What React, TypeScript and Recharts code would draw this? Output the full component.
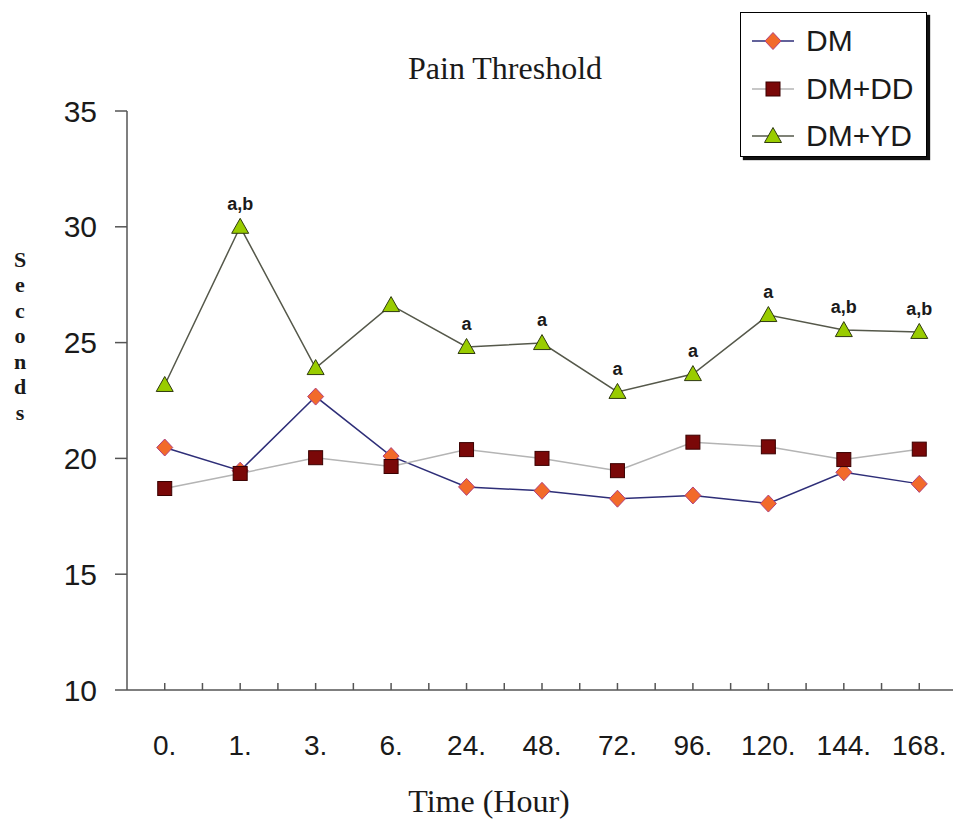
import React from 'react';
import { LineChart, Line, XAxis, YAxis, Legend, LabelList, Label } from 'recharts';

const categories = ['0.', '1.', '3.', '6.', '24.', '48.', '72.', '96.', '120.', '144.', '168.'];
const dmValues = [20.47, 19.47, 22.67, 20.1, 18.77, 18.6, 18.26, 18.4, 18.05, 19.4, 18.9];
const ddValues = [18.7, 19.35, 20.03, 19.65, 20.38, 20.0, 19.47, 20.7, 20.5, 19.95, 20.4];
const ydValues = [23.17, 30.0, 23.9, 26.62, 24.81, 24.98, 22.87, 23.64, 26.19, 25.54, 25.46];
const ydMarks = ['', 'a,b', '', '', 'a', 'a', 'a', 'a', 'a', 'a,b', 'a,b'];
const yTicks = [10, 15, 20, 25, 30, 35];
const seriesNames = { dm: 'DM', dd: 'DM+DD', yd: 'DM+YD' };

const data = categories.map((c, i) => ({
  time: c,
  dm: dmValues[i],
  dd: ddValues[i],
  yd: ydValues[i],
  mark: ydMarks[i],
}));

const CHART_W = 960;
const CHART_H = 819;
const MARGIN = { top: 111, right: 3, bottom: 29, left: 0 };
const YAXIS_W = 127;
const XAXIS_H = 100;
const PLOT_W = CHART_W - MARGIN.left - MARGIN.right - YAXIS_W;
const HALF_BAND = PLOT_W / categories.length / 2;

const SANS = '"Liberation Sans", Arial, sans-serif';
const SERIF = '"Liberation Serif", "Times New Roman", serif';
const AXIS = '#555';
const TEXT = '#1a1a1a';

const DM_LINE = '#2e2e78';
const DM_FILL = '#f26a2a';
const DM_STROKE = '#b0407e';
const DD_LINE = '#b4b4b4';
const DD_FILL = '#7a0808';
const DD_STROKE = '#3a0000';
const YD_LINE = '#55584a';
const YD_FILL = '#99cc00';
const YD_STROKE = '#2f3a10';

const Diamond = ({ cx, cy }: any) =>
  cx == null ? null : (
    <polygon
      points={`${cx},${cy - 8.5} ${cx + 8},${cy} ${cx},${cy + 8.5} ${cx - 8},${cy}`}
      fill={DM_FILL}
      stroke={DM_STROKE}
      strokeWidth={1}
    />
  );

const Square = ({ cx, cy }: any) =>
  cx == null ? null : (
    <rect x={cx - 7} y={cy - 7} width={14} height={14} fill={DD_FILL} stroke={DD_STROKE} strokeWidth={1} />
  );

const Triangle = ({ cx, cy }: any) =>
  cx == null ? null : (
    <polygon
      points={`${cx},${cy - 8.5} ${cx + 8.5},${cy + 6.5} ${cx - 8.5},${cy + 6.5}`}
      fill={YD_FILL}
      stroke={YD_STROKE}
      strokeWidth={1}
    />
  );

const XTick = (props: any) => {
  const { x, y, payload } = props;
  return (
    <g>
      <line x1={x} y1={y} x2={x} y2={y - 7} stroke={AXIS} strokeWidth={1.5} />
      <line x1={x + HALF_BAND} y1={y} x2={x + HALF_BAND} y2={y - 7} stroke={AXIS} strokeWidth={1.5} />
      <text x={x} y={y + 65} textAnchor="middle" fontSize={28} fontFamily={SANS} fill={TEXT}>
        {payload.value}
      </text>
    </g>
  );
};

const AnnotationLabel = (props: any) => {
  const { x, y, value } = props;
  if (!value) return null;
  return (
    <text x={x} y={y - 17} textAnchor="middle" fontSize={18} fontWeight="bold" fontFamily={SANS} fill={TEXT}>
      {value}
    </text>
  );
};

const SecondsLabel = () => {
  const letters = 'Seconds'.split('');
  return (
    <text x={20} y={259} textAnchor="middle" fontSize={22} fontWeight="bold" fontFamily={SERIF} fill={TEXT}>
      {letters.map((ch, i) => (
        <tspan key={i} x={20} dy={i === 0 ? '0.35em' : 25.5}>
          {ch}
        </tspan>
      ))}
    </text>
  );
};

const TimeLabel = () => (
  <text x={489} y={812} textAnchor="middle" fontSize={32} fontFamily={SERIF} fill={TEXT}>
    Time (Hour)
  </text>
);

const legendIcon = (key: string) => {
  const cx = 21;
  const cy = 11;
  if (key === 'dm')
    return (
      <>
        <line x1={0} y1={cy} x2={42} y2={cy} stroke={DM_LINE} strokeWidth={1.5} />
        <Diamond cx={cx} cy={cy} />
      </>
    );
  if (key === 'dd')
    return (
      <>
        <line x1={0} y1={cy} x2={42} y2={cy} stroke={DD_LINE} strokeWidth={1.5} />
        <Square cx={cx} cy={cy} />
      </>
    );
  return (
    <>
      <line x1={0} y1={cy} x2={42} y2={cy} stroke={YD_LINE} strokeWidth={1.5} />
      <Triangle cx={cx} cy={cy} />
    </>
  );
};

const LegendContent = (props: any) => {
  const payload = props.payload || [];
  return (
    <div
      style={{
        width: 187,
        height: 145,
        boxSizing: 'border-box',
        border: '1.5px solid #000',
        background: '#fff',
        boxShadow: '3px 3px 1px #111',
        position: 'relative',
      }}
    >
      {payload.map((p: any, i: number) => (
        <div
          key={p.dataKey}
          style={{
            position: 'absolute',
            left: 11,
            top: 28 + i * 47.5 - 17,
            height: 34,
            display: 'flex',
            alignItems: 'center',
          }}
        >
          <svg width={44} height={22} style={{ display: 'block' }}>
            {legendIcon(p.dataKey)}
          </svg>
          <span
            style={{
              marginLeft: 10,
              fontFamily: SANS,
              fontSize: 30,
              lineHeight: '34px',
              color: TEXT,
              whiteSpace: 'nowrap',
            }}
          >
            {p.value}
          </span>
        </div>
      ))}
    </div>
  );
};

export default function App() {
  return (
    <div style={{ position: 'absolute', left: 0, top: 0, width: 953, height: 819, overflow: 'hidden', background: '#fff' }}>
      <LineChart width={CHART_W} height={CHART_H} data={data} margin={MARGIN}>
        <XAxis
          dataKey="time"
          height={XAXIS_H}
          padding={{ left: HALF_BAND, right: HALF_BAND }}
          tickLine={false}
          tickSize={0}
          tickMargin={0}
          axisLine={{ stroke: AXIS, strokeWidth: 1.5 }}
          tick={<XTick />}
          interval={0}
        >
          <Label content={<TimeLabel />} />
        </XAxis>
        <YAxis
          width={YAXIS_W}
          domain={[10, 35]}
          ticks={yTicks}
          type="number"
          allowDataOverflow
          tickSize={12}
          tickMargin={18}
          axisLine={{ stroke: AXIS, strokeWidth: 1.5 }}
          tickLine={{ stroke: AXIS, strokeWidth: 1.5 }}
          tick={{ fontSize: 30, fontFamily: SANS, fill: TEXT }}
        >
          <Label content={<SecondsLabel />} />
        </YAxis>
        <Legend
          layout="vertical"
          align="center"
          verticalAlign="middle"
          content={<LegendContent />}
          wrapperStyle={{ position: 'absolute', left: 740, top: 12, width: 190, height: 150, margin: 0, padding: 0 }}
        />
        <Line
          dataKey="dm"
          name={seriesNames.dm}
          stroke={DM_LINE}
          strokeWidth={1.5}
          dot={<Diamond />}
          activeDot={false}
          isAnimationActive={false}
        />
        <Line
          dataKey="dd"
          name={seriesNames.dd}
          stroke={DD_LINE}
          strokeWidth={1.5}
          dot={<Square />}
          activeDot={false}
          isAnimationActive={false}
        />
        <Line
          dataKey="yd"
          name={seriesNames.yd}
          stroke={YD_LINE}
          strokeWidth={1.5}
          dot={<Triangle />}
          activeDot={false}
          isAnimationActive={false}
        >
          <LabelList dataKey="mark" content={<AnnotationLabel />} />
        </Line>
      </LineChart>
      <svg width={953} height={100} style={{ position: 'absolute', left: 0, top: 0, pointerEvents: 'none' }}>
        <text x={408} y={79} fontSize={32} fontFamily={SERIF} fill={TEXT}>
          Pain Threshold
        </text>
      </svg>
    </div>
  );
}
